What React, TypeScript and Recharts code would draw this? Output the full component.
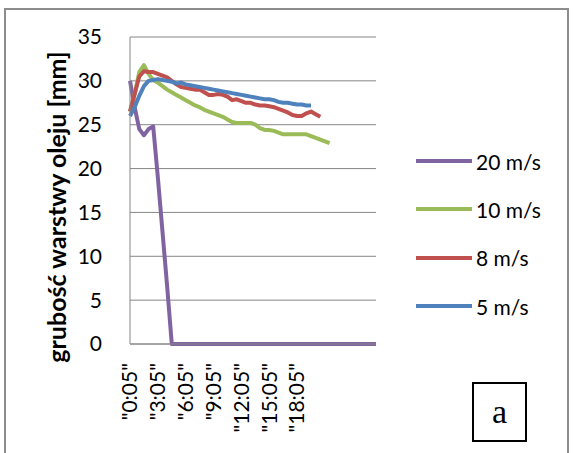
import { LineChart, Line, XAxis, YAxis, CartesianGrid, Legend } from 'recharts';

// pomiary co 30 s
const czas = [
  '"0:05"', '"0:35"', '"1:05"', '"1:35"', '"2:05"', '"2:35"', '"3:05"', '"3:35"', '"4:05"', '"4:35"',
  '"5:05"', '"5:35"', '"6:05"', '"6:35"', '"7:05"', '"7:35"', '"8:05"', '"8:35"', '"9:05"', '"9:35"',
  '"10:05"', '"10:35"', '"11:05"', '"11:35"', '"12:05"', '"12:35"', '"13:05"', '"13:35"', '"14:05"', '"14:35"',
  '"15:05"', '"15:35"', '"16:05"', '"16:35"', '"17:05"', '"17:35"', '"18:05"', '"18:35"', '"19:05"', '"19:35"',
  '"20:05"', '"20:35"', '"21:05"', '"21:35"', '"22:05"', '"22:35"', '"23:05"', '"23:35"', '"24:05"', '"24:35"',
  '"25:05"', '"25:35"', '"26:05"', '"26:35"',
];

const v20 = [
  30, 27, 24.5, 23.8, 24.5, 24.8, 19, 12.8, 6.6, 0,
  0, 0, 0, 0, 0, 0, 0, 0, 0, 0,
  0, 0, 0, 0, 0, 0, 0, 0, 0, 0,
  0, 0, 0, 0, 0, 0, 0, 0, 0, 0,
  0, 0, 0, 0, 0, 0, 0, 0, 0, 0,
  0, 0, 0, 0,
];

const v10 = [
  26.5, 28.5, 31, 31.8, 30.8, 30.1, 29.8, 29.4, 29, 28.7,
  28.4, 28.1, 27.8, 27.5, 27.2, 27, 26.7, 26.5, 26.3, 26.1,
  25.9, 25.6, 25.3, 25.2, 25.2, 25.2, 25.2, 25, 24.6, 24.4,
  24.4, 24.3, 24.1, 23.9, 23.9, 23.9, 23.9, 23.9, 23.9, 23.7,
  23.5, 23.3, 23.1, 22.9,
];

const v8 = [
  26.5, 28.5, 30.5, 31.1, 31, 31, 30.8, 30.6, 30.4, 30,
  29.6, 29.3, 29.2, 29.1, 29, 29, 28.7, 28.4, 28.4, 28.5,
  28.4, 28.2, 27.8, 27.9, 27.7, 27.5, 27.5, 27.3, 27.2, 27.2,
  27.1, 27, 26.8, 26.6, 26.4, 26.1, 26, 26, 26.3, 26.5,
  26.2, 25.9,
];

const v5 = [
  26, 27, 28.3, 29.4, 30, 30.1, 30.2, 30.1, 30, 29.9,
  29.7, 29.8, 29.6, 29.5, 29.4, 29.3, 29.2, 29.1, 29, 28.9,
  28.8, 28.7, 28.6, 28.5, 28.4, 28.3, 28.2, 28.1, 28, 27.9,
  27.9, 27.8, 27.6, 27.5, 27.5, 27.4, 27.3, 27.3, 27.2, 27.2,
];

const yTicks = [0, 5, 10, 15, 20, 25, 30, 35];
const xTicks = ['"0:05"', '"3:05"', '"6:05"', '"9:05"', '"12:05"', '"15:05"', '"18:05"'];

const serie = [
  { key: 's20', name: '20 m/s', color: '#8064a2', values: v20 },
  { key: 's10', name: '10 m/s', color: '#9bbb59', values: v10 },
  { key: 's8', name: '8 m/s', color: '#c0504d', values: v8 },
  { key: 's5', name: '5 m/s', color: '#4f81bd', values: v5 },
];

const dane = czas.map((t, i) => {
  const row: any = { t };
  serie.forEach((s) => {
    row[s.key] = i < s.values.length ? s.values[i] : null;
  });
  return row;
});

const FONT = 'Lato, "Open Sans", sans-serif';
const GRID = '#868686';

function TickCzas({ x, y, payload }: any) {
  return (
    <g transform={`translate(${x},${y}) rotate(-90)`}>
      <text x={0} y={0} dy="0.35em" textAnchor="end" fill="#000" fontSize={21} fontFamily={FONT}>
        {payload.value}
      </text>
    </g>
  );
}

// tytuł osi Y - stała pozycja z lewej strony
function TytulY() {
  return (
    <text
      transform="translate(57,207) rotate(-90)"
      textAnchor="middle"
      dy="0.35em"
      fontFamily={FONT}
      fontSize={25}
      fontWeight={700}
      fill="#000"
    >
      grubość warstwy oleju [mm]
    </text>
  );
}

function Legenda({ payload }: any) {
  const lista = serie
    .map((s) => (payload || []).find((p: any) => p.value === s.name))
    .filter(Boolean);
  return (
    <div style={{ fontFamily: FONT, fontSize: 21, color: '#000' }}>
      {lista.map((p: any) => (
        <div key={p.value} style={{ display: 'flex', alignItems: 'center', height: 48.3 }}>
          <span style={{ width: 56, height: 4, background: p.color, display: 'inline-block' }} />
          <span style={{ marginLeft: 4, lineHeight: 1 }}>{p.value}</span>
        </div>
      ))}
    </div>
  );
}

export default function App() {
  return (
    <div style={{ position: 'absolute', left: 0, top: 0, width: 574, height: 453, background: '#fff', overflow: 'hidden' }}>
      <div
        style={{
          position: 'absolute', left: 4, top: 8, width: 565, height: 470,
          border: '2px solid #8c8c8c', boxSizing: 'border-box',
        }}
      />
      <LineChart
        width={574}
        height={453}
        data={dane}
        margin={{ top: 37, right: 198, bottom: 19, left: 70 }}
        style={{ position: 'absolute', left: 0, top: 0 }}
      >
        <CartesianGrid vertical={false} stroke={GRID} strokeWidth={1} />
        <XAxis
          dataKey="t"
          ticks={xTicks}
          interval={0}
          height={90}
          tickSize={0}
          tickMargin={19}
          tick={<TickCzas />}
          axisLine={{ stroke: GRID }}
          tickLine={false}
        />
        <YAxis
          width={60}
          domain={[0, 35]}
          ticks={yTicks}
          interval={0}
          tickSize={0}
          tickMargin={28}
          tickLine={false}
          axisLine={{ stroke: GRID }}
          tick={{ fill: '#000', fontSize: 21, fontFamily: FONT }}
          label={<TytulY />}
        />
        <Legend
          layout="vertical"
          align="center"
          verticalAlign="middle"
          content={<Legenda />}
          wrapperStyle={{ left: 416, top: 137, width: 150 }}
        />
        {serie.map((s) => (
          <Line
            key={s.key}
            type="linear"
            dataKey={s.key}
            name={s.name}
            stroke={s.color}
            strokeWidth={4}
            strokeLinejoin="round"
            dot={false}
            isAnimationActive={false}
          />
        ))}
      </LineChart>
      <div
        style={{
          position: 'absolute', left: 472, top: 382, width: 55, height: 60,
          border: '2px solid #000', boxSizing: 'border-box',
          display: 'flex', alignItems: 'center', justifyContent: 'center',
          fontFamily: '"Liberation Serif", "DejaVu Serif", serif', fontSize: 34, color: '#000',
        }}
      >
        a
      </div>
    </div>
  );
}
